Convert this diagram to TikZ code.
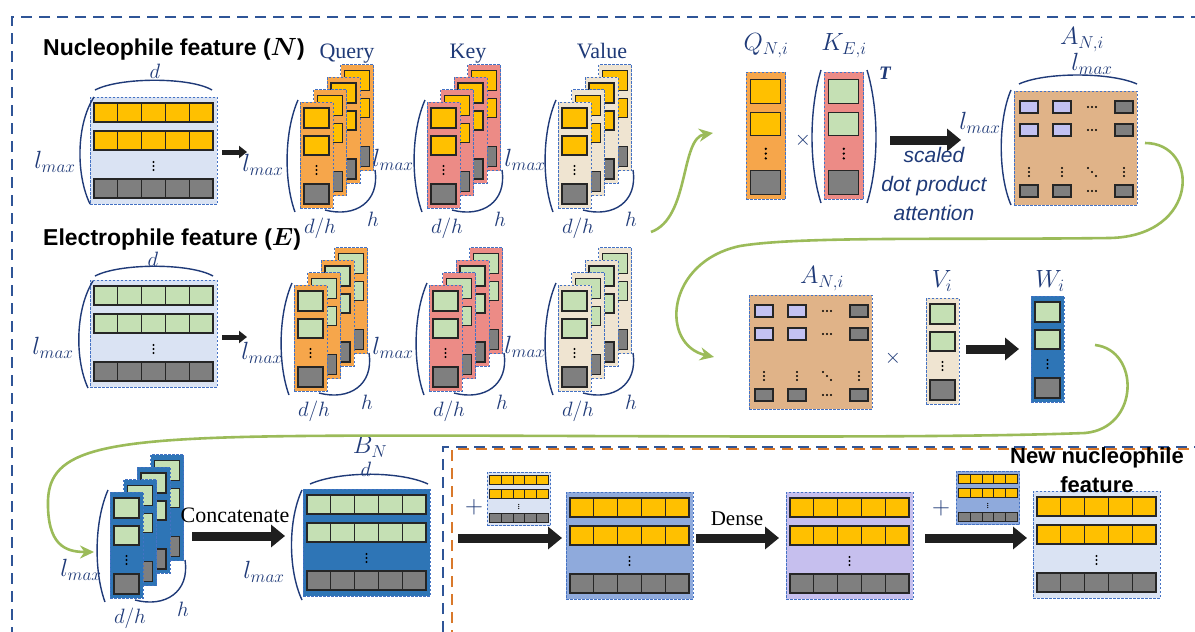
\documentclass[tikz,border=0pt]{standalone}
\usepackage{fontspec}
\usepackage{bm}
\setmainfont{Liberation Serif}
\setsansfont{Liberation Sans}
\usetikzlibrary{arrows.meta}
\definecolor{navy}{HTML}{1F3A78}
\definecolor{dashblue}{HTML}{4472C4}
\definecolor{frameblue}{HTML}{2F5597}
\definecolor{frameorange}{HTML}{D9792B}
\definecolor{yel}{HTML}{FFC000}
\definecolor{gr}{HTML}{7F7F7F}
\definecolor{lgreen}{HTML}{C5E0B4}
\definecolor{qorange}{HTML}{F6A64B}
\definecolor{kred}{HTML}{EC8B86}
\definecolor{vbeige}{HTML}{EFE4D1}
\definecolor{atan}{HTML}{E0B388}
\definecolor{lav}{HTML}{C3C2F2}
\definecolor{lblue}{HTML}{DAE3F3}
\definecolor{wblue}{HTML}{2E75B6}
\definecolor{mblue}{HTML}{8FAADC}
\definecolor{mlav}{HTML}{C6BFEE}
\definecolor{olive}{HTML}{9BBB59}
\tikzset{
  dbord/.style={draw=dashblue, dash pattern=on 2.5pt off 1.5pt, line width=0.9pt, inner sep=0pt, outer sep=0pt, anchor=north west},
  cell/.style={draw=black!85, line width=1.1pt},
  lab/.style={text=navy, inner sep=0pt},
  bigarrow/.style={draw=black!88, line width=9pt, -{Triangle[length=14pt,width=22pt]}},
  smallarrow/.style={draw=black!88, line width=5pt, -{Triangle[length=8pt,width=12pt]}},
  flow/.style={draw=olive, line width=2.6pt, -{Stealth[length=14pt,width=13pt]}},
  brk/.style={draw=navy, line width=1.4pt},
  frame/.style={draw=frameblue, line width=2.6pt, dash pattern=on 11pt off 7pt},
  oframe/.style={draw=frameorange, line width=2.4pt, dash pattern=on 11pt off 7pt, dash phase=9pt},
}
\newcommand{\mfont}{\fontsize{20}{24}\selectfont}
\newcommand{\lfont}{\fontsize{25}{28}\selectfont}
\newcommand{\bfont}{\fontsize{24}{28}\selectfont}
\newcommand{\vdt}[2]{\fill ({#1},{#2-4}) circle[radius=1.1pt] ({#1},{#2}) circle[radius=1.1pt] ({#1},{#2+4}) circle[radius=1.1pt];}
\newcommand{\hdt}[2]{\fill ({#1-4},{#2}) circle[radius=1.1pt] ({#1},{#2}) circle[radius=1.1pt] ({#1+4},{#2}) circle[radius=1.1pt];}
\newcommand{\ddt}[2]{\fill ({#1-4},{#2-4}) circle[radius=1.1pt] ({#1},{#2}) circle[radius=1.1pt] ({#1+4},{#2+4}) circle[radius=1.1pt];}
\newcommand{\mycard}[6]{%
  \node[dbord, fill=#5, minimum width={#4*33pt}, minimum height={#4*106pt}] (#1) at (#2,#3) {};
  \begin{scope}[shift={(#2,#3)}, scale=#4]
    \draw[cell, fill=#6] (4,6) rectangle (29,26);
    \draw[cell, fill=#6] (4,34) rectangle (29,53);
    \draw[cell, fill=gr] (4,82) rectangle (29,102);
    \vdt{16.5}{68}
  \end{scope}}
\newcommand{\mystack}[5]{%
  \foreach \k in {3,2,1,0}{%
    \pgfmathsetmacro{\stx}{#2+13.5*\k}%
    \pgfmathsetmacro{\sty}{#3-12.5*\k}%
    \mycard{#1\k}{\stx}{\sty}{1}{#4}{#5}%
  }}
\newcommand{\mydeco}[5]{%
  \draw[brk] ({#2-2},{#3-2}) .. controls ({#2-16},{#3+30}) and ({#2-16},{#3+80}) .. ({#2-5},{#3+110});
  \draw[brk] ({#2+25},{#3+108}) .. controls ({#2+55},{#3+116}) and ({#2+80},{#3+100}) .. ({#2+75},{#3+68});
  \node[lab, font=\lfont] (#1l) at ({#2+(#4)},{#3+(#5)}) {$l_{max}$};
  \node[lab, font=\mfont] (#1dh) at ({#2+20},{#3+126}) {$d/h$};
  \node[lab, font=\mfont] (#1h) at ({#2+73},{#3+117}) {$h$};
}
\newcommand{\mywide}[7]{%
  \node[dbord, fill=#5, minimum width={#4*127pt}, minimum height={#4*107pt}] (#1) at (#2,#3) {};
  \begin{scope}[shift={(#2,#3)}, scale=#4]
    \foreach \i in {0,...,4}{%
      \draw[cell, line width={#4*1.1pt}, fill=#6] ({4+\i*23.8},6) rectangle ({4+(\i+1)*23.8},25);
      \draw[cell, line width={#4*1.1pt}, fill=#6] ({4+\i*23.8},34) rectangle ({4+(\i+1)*23.8},53);
      \draw[cell, line width={#4*1.1pt}, fill=#7] ({4+\i*23.8},82) rectangle ({4+(\i+1)*23.8},101);
    }
    \vdt{63.5}{69}
  \end{scope}}
\newcommand{\myamat}[3]{%
  \node[dbord, fill=atan, minimum width=123pt, minimum height=114pt] (#1) at (#2,#3) {};
  \begin{scope}[shift={(#2,#3)}]
    \foreach \ry in {10,33}{%
      \draw[cell, fill=lav] (6,\ry) rectangle (24,{\ry+12});
      \draw[cell, fill=lav] (39,\ry) rectangle (57,{\ry+12});
      \draw[cell, fill=gr] (101,\ry) rectangle (119,{\ry+12});
      \hdt{78}{\ry+6}
    }
    \foreach \rx in {6,39,101}{\draw[cell, fill=gr] (\rx,94) rectangle ({\rx+18},106);}
    \hdt{78}{100}
    \vdt{15}{81}\vdt{48}{81}\vdt{110}{81}
    \ddt{78}{81}
  \end{scope}}
\begin{document}
\begin{tikzpicture}[x=1pt,y=-1pt]
\useasboundingbox (0,0) rectangle (1195,632);
\fill[white] (0,0) rectangle (1195,632);
% frames
\begin{scope}
\clip (0,0) rectangle (1195,632);
\draw[frame] (1220,17) -- (12,17) -- (12,650);
\draw[frame] (443,650) -- (443,447) -- (1220,447);
\draw[oframe] (452,650) -- (452,449) -- (1220,449);
\end{scope}

% ---------- Nucleophile input ----------
\node[anchor=base west, inner sep=0, font=\sffamily\bfseries\fontsize{23}{26}\selectfont] (tN) at (43,55) {Nucleophile feature (\(\bm{N}\))};
\mywide{mN}{90}{97}{1}{lblue}{yel}{gr}
\draw[brk] (95,90) .. controls (120,77) and (190,77) .. (212,90);
\node[lab, font=\mfont] (dN) at (155,71) {$d$};
\draw[brk] (94,97) .. controls (76,125) and (76,175) .. (90,204);
\node[lab, font=\lfont] (lN) at (55,162) {$l_{max}$};
\coordinate (a1s) at (222,152);
\coordinate (a1e) at (247,152);
\draw[smallarrow] (a1s) -- (a1e);

% ---------- Electrophile input ----------
\node[anchor=base west, inner sep=0, font=\sffamily\bfseries\fontsize{23}{26}\selectfont] (tE) at (43,245) {Electrophile feature (\(\bm{E}\))};
\mywide{mE}{90}{280}{1}{lblue}{lgreen}{gr}
\draw[brk] (95,276) .. controls (120,263) and (190,263) .. (213,276);
\node[lab, font=\mfont] (dE) at (153,259) {$d$};
\draw[brk] (93,281) .. controls (75,310) and (75,360) .. (88,388);
\node[lab, font=\lfont] (lE) at (53,348) {$l_{max}$};
\coordinate (a2s) at (222,337);
\coordinate (a2e) at (247,337);
\draw[smallarrow] (a2s) -- (a2e);

% ---------- Q/K/V stacks (N) ----------
\mystack{qN}{300}{102}{qorange}{yel}
\mydeco{qNd}{300}{102}{-37}{63}
\mystack{kN}{427}{102}{kred}{yel}
\mydeco{kNd}{427}{102}{-34}{58}
\mystack{vN}{558}{102}{vbeige}{yel}
\mydeco{vNd}{558}{102}{-33}{58}
\node[lab, anchor=base, font=\fontsize{22}{24}\selectfont] (tQ) at (347,58) {Query};
\node[lab, anchor=base, font=\fontsize{22}{24}\selectfont] (tK) at (468,58) {Key};
\node[lab, anchor=base, font=\fontsize{22}{24}\selectfont] (tV) at (602,58) {Value};

% ---------- Q/K/V stacks (E) ----------
\mystack{qE}{294}{285}{qorange}{lgreen}
\mydeco{qEd}{294}{285}{-32}{68}
\mystack{kE}{429}{285}{kred}{lgreen}
\mydeco{kEd}{429}{285}{-36}{63}
\mystack{vE}{558}{285}{vbeige}{lgreen}
\mydeco{vEd}{558}{285}{-33}{62}

% ---------- attention scores ----------
\mycard{Qc}{746}{72}{1.2}{qorange}{yel}
\mycard{Kc}{824}{72}{1.2}{kred}{lgreen}
\node[lab, font=\bfont] (tQc) at (766,46) {$Q_{N,i}$};
\node[lab, font=\bfont] (tKc) at (844,46) {$K_{E,i}$};
\node[lab, font=\fontsize{22}{24}\selectfont] (x1) at (803,140) {$\times$};
\draw[brk] (821,70) .. controls (809,110) and (809,165) .. (821,203);
\draw[brk] (867,70) .. controls (879,110) and (879,165) .. (867,203);
\node[lab, font=\fontsize{19}{22}\selectfont\bfseries\itshape] (tT) at (885,73) {T};
\coordinate (b1s) at (890,140);
\coordinate (b1e) at (961,140);
\draw[bigarrow] (b1s) -- (b1e);
\node[lab, align=center, font=\sffamily\itshape\fontsize{21}{29}\selectfont] (sdp) at (934,184) {scaled\\dot product\\attention};
\myamat{At}{1014}{91}
\draw[brk] (1011,90) .. controls (998,120) and (998,175) .. (1011,205);
\node[lab, font=\lfont] (lAt) at (980,123) {$l_{max}$};
\draw[brk] (1019,84) .. controls (1045,72) and (1110,72) .. (1137,84);
\node[lab, font=\lfont] (lAt2) at (1092,64) {$l_{max}$};
\node[lab, font=\bfont] (tAt) at (1082,40) {$A_{N,i}$};

% ---------- weighted values ----------
\myamat{Ab}{749}{295}
\node[lab, font=\bfont] (tAb) at (822,279) {$A_{N,i}$};
\node[lab, font=\fontsize{22}{24}\selectfont] (x2) at (893,358) {$\times$};
\mycard{Vc}{926}{298}{1}{vbeige}{lgreen}
\node[lab, font=\bfont] (tVc) at (942,281) {$V_i$};
\coordinate (b2s) at (966,349);
\coordinate (b2e) at (1019,349);
\draw[bigarrow] (b2s) -- (b2e);
\mycard{Wc}{1031}{296}{1}{wblue}{lgreen}
\node[lab, font=\bfont] (tWc) at (1050,281) {$W_i$};

% ---------- concatenation ----------
\mystack{wS}{110}{492}{wblue}{lgreen}
\mydeco{wSd}{110}{492}{-29}{78}
\node[anchor=center, inner sep=0, font=\fontsize{22}{24}\selectfont] (tC) at (235,515) {Concatenate};
\coordinate (b3s) at (192,536);
\coordinate (b3e) at (285,536);
\draw[bigarrow] (b3s) -- (b3e);
\mywide{mB}{303}{489}{1}{wblue}{lgreen}{gr}
\draw[brk] (310,484) .. controls (340,471) and (400,471) .. (428,484);
\node[lab, font=\mfont] (dB) at (366,469) {$d$};
\node[lab, font=\bfont] (tB) at (370,447) {$B_N$};
\draw[brk] (302,490) .. controls (288,520) and (288,570) .. (302,600);
\node[lab, font=\lfont] (lB) at (264,572) {$l_{max}$};

% ---------- residual + dense ----------
\mywide{s1}{487}{472}{0.5}{lblue}{yel}{gr}
\node[lab, font=\fontsize{24}{26}\selectfont] (p1) at (474,507) {$+$};
\coordinate (b4s) at (458,538);
\coordinate (b4e) at (562,538);
\draw[bigarrow] (b4s) -- (b4e);
\mywide{m2}{566}{492}{1}{mblue}{yel}{gr}
\node[anchor=center, inner sep=0, font=\fontsize{21}{24}\selectfont] (tD) at (737,519) {Dense};
\coordinate (b5s) at (696,538);
\coordinate (b5e) at (779,538);
\draw[bigarrow] (b5s) -- (b5e);
\mywide{m3}{786}{492}{1}{mlav}{yel}{gr}
\node[lab, font=\fontsize{24}{26}\selectfont] (p2) at (941,508) {$+$};
\mywide{s2}{956}{471}{0.5}{mblue}{yel}{gr}
\coordinate (b6s) at (925,538);
\coordinate (b6e) at (1027,538);
\draw[bigarrow] (b6s) -- (b6e);
\mywide{m4}{1033}{491}{1}{lblue}{yel}{gr}
\node[anchor=base, inner sep=0, font=\sffamily\bfseries\fontsize{22}{26}\selectfont] (tNew1) at (1097,463) {New nucleophile};
\node[anchor=base, inner sep=0, font=\sffamily\bfseries\fontsize{22}{26}\selectfont] (tNew2) at (1097,492) {feature};

% ---------- green flow connectors ----------
\coordinate (c1s) at (651,232);
\coordinate (c1e) at (713,133);
\draw[flow] (c1s) .. controls (690,218) and (680,138) .. (c1e);
\coordinate (c2s) at (1145,143);
\coordinate (c2e) at (714,357);
\draw[flow] (c2s) .. controls (1200,143) and (1200,236) .. (1110,238) .. controls (950,240) and (800,236) .. (740,246) .. controls (665,262) and (660,345) .. (c2e);
\coordinate (c3s) at (1095,345);
\coordinate (c3e) at (94,552);
\draw[flow] (c3s) .. controls (1140,350) and (1140,428) .. (1085,433) .. controls (900,440) and (500,434) .. (300,436) .. controls (100,438) and (50,450) .. (48,500) .. controls (47,545) and (65,552) .. (c3e);
\end{tikzpicture}
\end{document}
